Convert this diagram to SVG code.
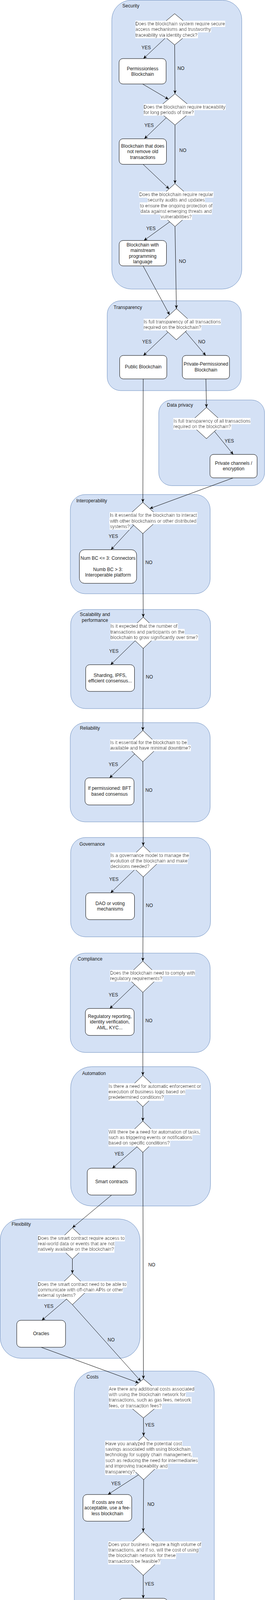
<svg xmlns="http://www.w3.org/2000/svg" width="679" height="4181" viewBox="0 0 679 4181">
<defs>
<style>
.c{fill:#d4e1f5;stroke:#6c8ebf;stroke-width:1}
.s{fill:#fff;stroke:#000;stroke-width:1}
text{font-family:"Liberation Sans",Arial,Helvetica,sans-serif;font-size:12px;fill:#1a1a1a}
.m{text-anchor:middle}
.bg{filter:url(#tb)}
.e{fill:none;stroke:#000;stroke-width:1;marker-end:url(#ah)}
</style>
<filter id="tb" x="0" y="-0.05" width="1" height="1.1"><feFlood flood-color="#ffffff"/><feComposite in="SourceGraphic" operator="over"/></filter>
<marker id="ah" markerUnits="userSpaceOnUse" markerWidth="10" markerHeight="8" refX="9" refY="4" orient="auto"><path d="M0,0 L9,4 L0,8 L2.5,4 Z" fill="#000"/></marker>
</defs>

<g id="containers">
<g id="security"><rect class="c" x="286.5" y="0.5" width="333" height="739.5" rx="50"/><text x="313.6" y="19">Security</text></g>
<g id="transparency"><rect class="c" x="274.7" y="770" width="343.3" height="230" rx="34.5"/><text x="291" y="790.7">Transparency</text></g>
<g id="dataprivacy"><rect class="c" x="406.8" y="1024" width="271" height="219.3" rx="33"/><text x="427.8" y="1040.7">Data privacy</text></g>
<g id="interoperability"><rect class="c" x="180.2" y="1266" width="358.3" height="254" rx="38"/><text x="195.5" y="1285.7">Interoperability</text></g>
<g id="scalability"><rect class="c" x="181" y="1560.3" width="358.4" height="253.7" rx="38"/><text class="m" x="243.3" y="1576.7">Scalability and</text><text class="m" x="243.3" y="1591.7">performance</text></g>
<g id="reliability"><rect class="c" x="180" y="1850" width="358.5" height="254" rx="38"/><text x="204.7" y="1867.7">Reliability</text></g>
<g id="governance"><rect class="c" x="181" y="2144" width="358.4" height="254.3" rx="38"/><text x="203.4" y="2164.7">Governance</text></g>
<g id="compliance"><rect class="c" x="180.2" y="2440" width="358.3" height="254.3" rx="38"/><text x="199" y="2458.7">Compliance</text></g>
<g id="automation"><rect class="c" x="181" y="2730.7" width="358.4" height="356.6" rx="53.5"/><text x="210.4" y="2751.7">Automation</text></g>
<g id="flexibility"><rect class="c" x="0.5" y="3120.7" width="358.2" height="356.6" rx="53.5"/><text x="29.7" y="3138.3">Flexibility</text></g>
<g id="costs"><rect class="c" x="190.3" y="3510" width="358.7" height="670" rx="53.8"/><text x="221.8" y="3528.7">Costs</text></g>
</g>

<g id="connectors">
<path class="e" d="M447.5,75 L367.5,150"/><text class="m" x="374.5" y="125.7">YES</text>
<path class="e" d="M447.5,115 L448.4,240"/><text class="m" x="463.7" y="178.7">NO</text>
<path class="e" d="M365.3,215 L431.6,254"/>
<path class="e" d="M448.4,280 L370,355"/><text class="m" x="382" y="324.7">YES</text>
<path class="e" d="M448.4,320 L448.4,470"/><text class="m" x="468.5" y="388.7">NO</text>
<path class="e" d="M366.6,420.7 L433.2,483.5"/>
<path class="e" d="M441.7,563 L368.8,615.7"/><text class="m" x="386.7" y="588.7">YES</text>
<path class="e" d="M448.4,580 L452,790"/><text class="m" x="467.6" y="673.3">NO</text>
<path class="e" d="M366.6,680.7 L434.4,806"/>
<path class="e" d="M452,830 L367.5,910"/><text class="m" x="376.2" y="878.7">YES</text>
<path class="e" d="M470,843 L527.1,910"/><text class="m" x="517" y="878.7">NO</text>
<path class="e" d="M367,970 L366,1286"/>
<path class="e" d="M527.6,970 L529,1043"/>
<path class="e" d="M532,1083 L597.6,1163.3"/><text class="m" x="587.5" y="1132.7">YES</text>
<path class="e" d="M597.6,1223.3 L383.6,1302"/>
<path class="e" d="M359.6,1326 L284.3,1407.3"/><text class="m" x="290.5" y="1376.7">YES</text>
<path class="e" d="M366,1366 L367,1580"/><text class="m" x="381.5" y="1443.7">NO</text>
<path class="e" d="M367,1620 L283.5,1701.7"/><text class="m" x="291.8" y="1670.7">YES</text>
<path class="e" d="M367,1660 L366,1870"/><text class="m" x="382.8" y="1737.3">NO</text>
<path class="e" d="M366,1910 L280.8,1991.3"/><text class="m" x="290.5" y="1960.7">YES</text>
<path class="e" d="M366,1950 L367,2165"/><text class="m" x="381.5" y="2027.3">NO</text>
<path class="e" d="M367,2205 L283.5,2285.7"/><text class="m" x="291.8" y="2254.7">YES</text>
<path class="e" d="M367,2245 L366,2460.5"/><text class="m" x="382.8" y="2321.7">NO</text>
<path class="e" d="M366,2500.5 L281.3,2581.7"/><text class="m" x="290.5" y="2550.7">YES</text>
<path class="e" d="M366,2540.5 L366,2753"/><text class="m" x="381.5" y="2617.3">NO</text>
<path class="e" d="M366,2833 L366,2870"/>
<path class="e" d="M356.1,2931.5 L287.8,2990.7"/><text class="m" x="305.3" y="2958.3">YES</text>
<path class="e" d="M366,2950 L367.5,3530"/><text class="m" x="388.9" y="3241.7">NO</text>
<path class="e" d="M286,3059.3 L185.5,3143"/>
<path class="e" d="M185.5,3223 L185.5,3260"/>
<path class="e" d="M176.7,3320.5 L107.2,3380"/><text class="m" x="125.1" y="3348.3">YES</text>
<path class="e" d="M185.5,3340 L360.7,3535.6"/><text class="m" x="284.8" y="3434.3">NO</text>
<path class="e" d="M105.4,3449 L355.3,3540.2"/>
<path class="e" d="M367.5,3630 L368,3676"/><text class="m" x="383.6" y="3651.7">YES</text>
<path class="e" d="M361,3771.7 L276.5,3826"/><text class="m" x="297" y="3801.7">YES</text>
<path class="e" d="M368,3788 L367,3921"/><text class="m" x="386.7" y="3854.7">NO</text>
<path class="e" d="M367,4033 L367,4091.7"/><text class="m" x="382.8" y="4058.7">YES</text>
</g>

<g id="q-secure-access">
<polygon class="s" points="447.5,35 495.5,75 447.5,115 399.5,75"/>
<text class="bg" x="347" y="64.7">Does the blockchain system require secure</text>
<text class="bg" x="347" y="79.1">access mechanisms and trustworthy</text>
<text class="bg" x="347" y="93.5">traceability via identity check?</text>
</g>
<g id="permissionless"><rect class="s" x="305" y="150" width="120.6" height="65" rx="9.75"/><text class="m" x="365.3" y="179.7">Permissionless</text><text class="m" x="365.3" y="194.1">Blockchain</text></g>

<g id="q-traceability">
<polygon class="s" points="448.4,240 496.4,280 448.4,320 400.4,280"/>
<text class="bg" x="368" y="277.7">Does the blockchain require traceability</text>
<text class="bg" x="368" y="292">for long periods of time?</text>
</g>
<g id="no-remove-old"><rect class="s" x="305.3" y="355.3" width="121.2" height="65.4" rx="9.75"/><text class="m" x="365.7" y="377.7">Blockchain that does</text><text class="m" x="365.7" y="392.1">not remove old</text><text class="m" x="365.7" y="406.5">transactions</text></g>

<g id="q-audits">
<polygon class="s" points="448.4,470 510.4,525 448.4,580 386.4,525"/>
<text class="bg m" x="451.4" y="501.7">Does the blockchain require regular</text>
<text class="bg m" x="451.4" y="516.1">security audits and updates</text>
<text class="bg m" x="451.4" y="530.5">to ensure the ongoing protection of</text>
<text class="bg m" x="451.4" y="544.9">data against emerging threats and</text>
<text class="bg m" x="451.4" y="559.3">vulnerabilities?</text>
</g>
<g id="mainstream-lang"><rect class="s" x="305.3" y="615.7" width="121.2" height="65" rx="9.75"/><text class="m" x="365.7" y="630.7">Blockchain with</text><text class="m" x="365.7" y="645.1">mainstream</text><text class="m" x="365.7" y="659.5">programming</text><text class="m" x="365.7" y="673.9">language</text></g>

<g id="q-transparency">
<polygon class="s" points="452,790 496,830 452,870 408,830"/>
<text class="bg" x="368" y="827.7">Is full transparency of all transactions</text>
<text class="bg" x="368" y="842">required on the blockchain?</text>
</g>
<g id="public-bc"><rect class="s" x="306.6" y="910" width="120.8" height="60" rx="9"/><text class="m" x="367" y="943.3">Public Blockchain</text></g>
<g id="private-bc"><rect class="s" x="467.2" y="910" width="120.8" height="60" rx="9"/><text class="m" x="527.6" y="936.3">Private-Permissioned</text><text class="m" x="527.6" y="950.7">Blockchain</text></g>

<g id="q-privacy">
<polygon class="s" points="529,1043 573,1083 529,1123 485,1083"/>
<text class="bg" x="444.4" y="1081.7">Is full transparency of all transactions</text>
<text class="bg" x="444.4" y="1096">required on the blockchain?</text>
</g>
<g id="private-channels"><rect class="s" x="538" y="1163.3" width="120.8" height="60" rx="9"/><text class="m" x="598.4" y="1189.7">Private channels /</text><text class="m" x="598.4" y="1204.1">encryption</text></g>

<g id="q-interop">
<polygon class="s" points="366,1286 410,1326 366,1366 322,1326"/>
<text class="bg" x="281.7" y="1323.3">Is it essential for the blockchain to interact</text>
<text class="bg" x="281.7" y="1337.7">with other blockchains or other distributed</text>
<text class="bg" x="281.7" y="1352.1">systems?</text>
</g>
<g id="connectors-platform"><rect class="s" x="203.4" y="1407.3" width="146.6" height="86" rx="12.9"/><text class="m" x="276.7" y="1432.7">Num BC &lt;= 3: Connectors</text><text class="m" x="276.7" y="1461.5">Numb BC &gt; 3:</text><text class="m" x="276.7" y="1475.9">Interoperable platform</text></g>

<g id="q-scalability">
<polygon class="s" points="367,1580 409,1620 367,1660 325,1620"/>
<text class="bg" x="283" y="1607.3">Is it expected that the number of</text>
<text class="bg" x="283" y="1621.7">transactions and participants on the</text>
<text class="bg" x="283" y="1636.1">blockchain to grow significantly over time?</text>
</g>
<g id="sharding"><rect class="s" x="219.6" y="1701.7" width="125" height="68.3" rx="10.2"/><text class="m" x="282.1" y="1733">Sharding, IPFS,</text><text class="m" x="282.1" y="1747.4">efficient consensus...</text></g>

<g id="q-reliability">
<polygon class="s" points="366,1870 408,1910 366,1950 324,1910"/>
<text class="bg" x="282.2" y="1904.7">Is it essential for the blockchain to be</text>
<text class="bg" x="282.2" y="1919">available and have minimal downtime?</text>
</g>
<g id="bft"><rect class="s" x="217.8" y="1991.3" width="125.6" height="69.4" rx="10.4"/><text class="m" x="280.6" y="2022.3">If permissioned: BFT</text><text class="m" x="280.6" y="2036.7">based consensus</text></g>

<g id="q-governance">
<polygon class="s" points="367,2165 409,2205 367,2245 325,2205"/>
<text class="bg" x="283" y="2193.7">Is a governance model to manage the</text>
<text class="bg" x="283" y="2208">evolution of the blockchain and make</text>
<text class="bg" x="283" y="2222.4">decisions needed?</text>
</g>
<g id="dao"><rect class="s" x="219.6" y="2285.7" width="125" height="68.6" rx="10.3"/><text class="m" x="282.1" y="2316.7">DAO or voting</text><text class="m" x="282.1" y="2331.1">mechanisms</text></g>

<g id="q-compliance">
<polygon class="s" points="366,2460.5 408,2500.5 366,2540.5 324,2500.5"/>
<text class="bg" x="282.2" y="2494.7">Does the blockchain need to comply with</text>
<text class="bg" x="282.2" y="2509">regulatory requirements?</text>
</g>
<g id="regulatory"><rect class="s" x="218.7" y="2581.7" width="125" height="69" rx="10.3"/><text class="m" x="281.2" y="2606">Regulatory reporting,</text><text class="m" x="281.2" y="2620.4">identity verification,</text><text class="m" x="281.2" y="2634.8">AML, KYC...</text></g>

<g id="q-enforcement">
<polygon class="s" points="366,2753 408,2793 366,2833 324,2793"/>
<text class="bg" x="278.2" y="2784.7">Is there a need for automatic enforcement or</text>
<text class="bg" x="278.2" y="2799">execution of business logic based on</text>
<text class="bg" x="278.2" y="2813.4">predetermined conditions?</text>
</g>
<g id="q-automation">
<polygon class="s" points="366,2870 408,2910 366,2950 324,2910"/>
<text class="bg" x="278.2" y="2901.7">Will there be a need for automation of tasks,</text>
<text class="bg" x="278.2" y="2916">such as triggering events or notifications</text>
<text class="bg" x="278.2" y="2930.4">based on specific conditions?</text>
</g>
<g id="smart-contracts"><rect class="s" x="223.5" y="2990.7" width="125" height="68.6" rx="10.3"/><text class="m" x="286" y="3029">Smart contracts</text></g>

<g id="q-realworld">
<polygon class="s" points="185.5,3143 227.5,3183 185.5,3223 143.5,3183"/>
<text class="bg" x="97.1" y="3173.7">Does the smart contract require access to</text>
<text class="bg" x="97.1" y="3188">real-world data or events that are not</text>
<text class="bg" x="97.1" y="3202.4">natively available on the blockchain?</text>
</g>
<g id="q-offchain">
<polygon class="s" points="185.5,3260 227.5,3300 185.5,3340 143.5,3300"/>
<text class="bg" x="97.1" y="3291.7">Does the smart contract need to be able to</text>
<text class="bg" x="97.1" y="3306">communicate with off-chain APIs or other</text>
<text class="bg" x="97.1" y="3320.4">external systems?</text>
</g>
<g id="oracles"><rect class="s" x="42.9" y="3380" width="125" height="69" rx="10.3"/><text class="m" x="105.4" y="3417.7">Oracles</text></g>

<g id="q-fees">
<polygon class="s" points="367.5,3530 427.5,3580 367.5,3630 307.5,3580"/>
<text class="bg" x="279.1" y="3559.7">Are there any additional costs associated</text>
<text class="bg" x="279.1" y="3574">with using the blockchain network for</text>
<text class="bg" x="279.1" y="3588.4">transactions, such as gas fees, network</text>
<text class="bg" x="279.1" y="3602.8">fees, or transaction fees?</text>
</g>
<g id="q-savings">
<polygon class="s" points="368,3676 427,3732 368,3788 309,3732"/>
<text class="bg" x="269.9" y="3699.7">Have you analyzed the potential cost</text>
<text class="bg" x="269.9" y="3714">savings associated with using blockchain</text>
<text class="bg" x="269.9" y="3728.4">technology for supply chain management,</text>
<text class="bg" x="269.9" y="3742.8">such as reducing the need for intermediaries</text>
<text class="bg" x="269.9" y="3757.2">and improving traceability and</text>
<text class="bg" x="269.9" y="3771.6">transparency?</text>
</g>
<g id="feeless-if-costs"><rect class="s" x="212.6" y="3826" width="125" height="68.3" rx="10.2"/><text class="m" x="275.1" y="3850">If costs are not</text><text class="m" x="275.1" y="3864.4">acceptable, use a fee-</text><text class="m" x="275.1" y="3878.8">less blockchain</text></g>

<g id="q-volume">
<polygon class="s" points="367,3921 427,3977 367,4033 307,3977"/>
<text class="bg" x="277.8" y="3957.7">Does your business require a high volume of</text>
<text class="bg" x="277.8" y="3972">transactions, and if so, will the cost of using</text>
<text class="bg" x="277.8" y="3986.4">the blockchain network for these</text>
<text class="bg" x="277.8" y="4000.8">transactions be feasible?</text>
</g>
<g id="feeless"><rect class="s" x="304.5" y="4091.7" width="125" height="68.6" rx="10.3"/><text class="m" x="367" y="4122.3">Use a fee-less</text><text class="m" x="367" y="4136.7">blockchain</text></g>
</svg>
